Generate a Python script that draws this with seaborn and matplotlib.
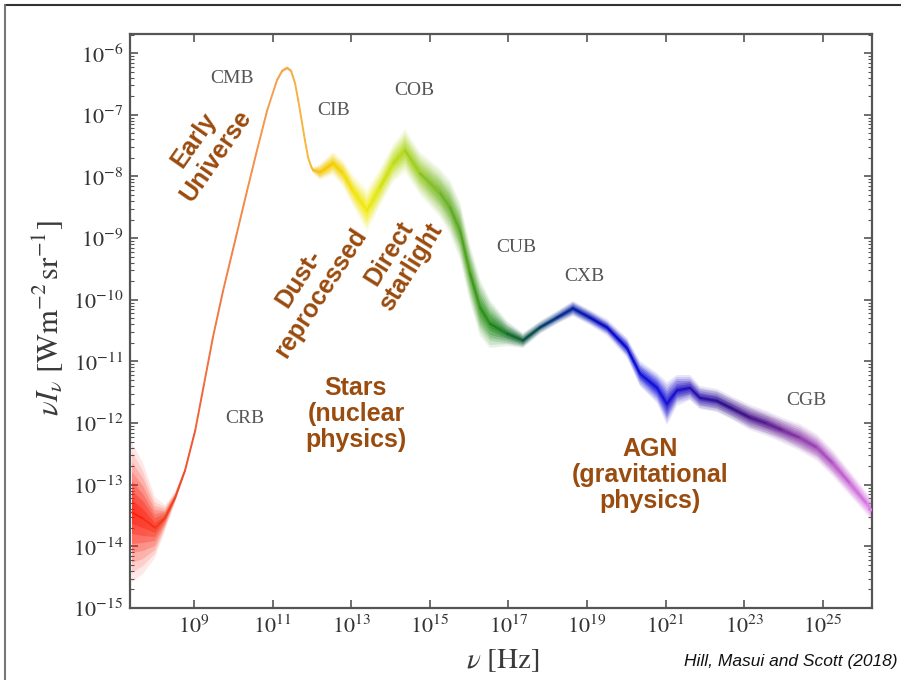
import numpy as np
import pandas as pd
import matplotlib
matplotlib.use("Agg")
import matplotlib.pyplot as plt
import seaborn as sns
from matplotlib.colors import LinearSegmentedColormap, Normalize
from matplotlib.path import Path
from matplotlib.ticker import LogLocator, NullFormatter, NullLocator
from matplotlib.lines import Line2D

# ---------------- data ----------------
log_nu = [7.42, 7.70, 8.01, 8.26, 8.52, 8.77, 9.03, 9.25, 9.48, 9.74, 10.09, 10.35,
          10.60, 10.86, 11.11, 11.24, 11.37, 11.47, 11.57, 11.65, 11.75, 11.82,
          11.90, 11.98, 12.03, 12.21, 12.54, 12.79, 13.04, 13.40, 13.73, 14.06,
          14.37, 14.75, 15.26, 15.51, 15.77, 16.02, 16.28, 16.53, 16.96, 17.37,
          17.80, 18.23, 18.64, 19.07, 19.51, 20.01, 20.35, 20.78, 21.03, 21.29,
          21.62, 21.87, 22.30, 22.71, 23.14, 23.58, 23.98, 24.42, 24.85, 25.26,
          25.69, 26.12, 26.25]
log_nuInu = [-13.45, -13.55, -13.70, -13.54, -13.21, -12.77, -12.12, -11.38,
             -10.61, -9.85, -8.92, -8.23, -7.58, -6.93, -6.44, -6.29, -6.24,
             -6.29, -6.49, -6.76, -7.14, -7.41, -7.69, -7.84, -7.90, -7.93,
             -7.79, -7.95, -8.23, -8.55, -8.18, -7.79, -7.58, -7.95, -8.27,
             -8.50, -8.88, -9.57, -10.13, -10.39, -10.55, -10.66, -10.45,
             -10.29, -10.14, -10.29, -10.45, -10.78, -11.20, -11.43, -11.69,
             -11.47, -11.43, -11.59, -11.64, -11.77, -11.91, -12.01, -12.12,
             -12.24, -12.40, -12.66, -12.98, -13.31, -13.42]
log_halfwidth = [0.78, 0.62, 0.34, 0.14, 0.06, 0.03, 0.02, 0.02, 0.02, 0.02, 0.02,
                 0.02, 0.02, 0.02, 0.02, 0.02, 0.02, 0.02, 0.02, 0.02, 0.02, 0.02,
                 0.02, 0.02, 0.03, 0.09, 0.13, 0.15, 0.17, 0.24, 0.21, 0.21, 0.24,
                 0.24, 0.27, 0.30, 0.32, 0.32, 0.32, 0.27, 0.14, 0.08, 0.07, 0.07,
                 0.08, 0.08, 0.09, 0.11, 0.14, 0.17, 0.24, 0.17, 0.14, 0.13, 0.13,
                 0.13, 0.14, 0.14, 0.14, 0.15, 0.15, 0.15, 0.14, 0.13, 0.13]

x_tick_exp = list(range(9, 26, 2))
y_tick_exp = list(range(-15, -5))

band_labels = ["CMB", "CIB", "COB", "CUB", "CXB", "CRB", "CGB"]
band_label_lognu = [9.97, 12.54, 14.60, 17.19, 18.92, 10.30, 24.59]
band_label_logI = [-6.41, -6.93, -6.60, -9.15, -9.62, -11.93, -11.64]

notes = ["Early\nUniverse", "Dust-\nreprocessed", "Direct\nstarlight",
         "Stars\n(nuclear\nphysics)", "AGN\n(gravitational\nphysics)"]
note_lognu = [9.28, 11.95, 14.24, 13.12, 20.60]
note_logI = [-7.54, -9.77, -9.36, -11.85, -12.84]
note_rot = [55, 57, 58, 0, 0]

# ---------------- style ----------------
sns.set_style("ticks")
plt.rcParams["font.family"] = ["DejaVu Sans"]
plt.rcParams["mathtext.fontset"] = "stix"

XMIN, XMAX = 7.37, 26.25
YMIN, YMAX = -15.0, -5.69

stops = [(7.37, "#ff1a0d"), (8.6, "#f04a28"), (9.5, "#f07845"), (11.0, "#f5a050"),
         (11.8, "#f7b840"), (12.3, "#f5c800"), (13.4, "#f3ee10"), (14.3, "#b0d81a"),
         (15.2, "#78b828"), (16.0, "#4aa020"), (16.6, "#1e8a18"), (17.4, "#105a3a"),
         (18.0, "#0a3c78"), (18.7, "#0820a8"), (19.5, "#0a0ac8"), (20.8, "#1212e0"),
         (21.8, "#2a10b0"), (22.6, "#30108a"), (23.6, "#5a1a90"), (24.5, "#8a3aa8"),
         (25.5, "#c060d0"), (26.25, "#e080e8")]
cmap = LinearSegmentedColormap.from_list(
    "spec", [((p - XMIN) / (XMAX - XMIN), c) for p, c in stops])
norm = Normalize(XMIN, XMAX)

fig = plt.figure(figsize=(9.01, 6.8), dpi=100)
ax = fig.add_axes([130 / 901, 1 - 608 / 680, 742 / 901, 574 / 680])
ax.set_xscale("log")
ax.set_yscale("log")

lnu = np.array(log_nu)
lI = np.array(log_nuInu)
hw = np.array(log_halfwidth)
nu = 10 ** lnu

# gradient mesh for colouring the band
gx_exp = np.linspace(XMIN, XMAX, 700)
gx = 10 ** gx_exp
gy = np.array([10 ** YMIN, 10 ** YMAX])
C = ((gx_exp[:-1] + gx_exp[1:]) / 2)[None, :]

layers = [(1.45, 0.10), (1.25, 0.13), (1.05, 0.17), (0.85, 0.22), (0.65, 0.28),
          (0.45, 0.35), (0.25, 0.45)]
for s, a in layers:
    hi = 10 ** (lI + s * hw)
    lo = 10 ** (lI - s * hw)
    verts = np.column_stack([np.r_[nu, nu[::-1], nu[:1]], np.r_[hi, lo[::-1], hi[:1]]])
    path = Path(verts, closed=True)
    mesh = ax.pcolormesh(gx, gy, C, cmap=cmap, norm=norm, alpha=a,
                         shading="flat", zorder=2, edgecolors="none")
    mesh.set_clip_path(path, ax.transData)

# centre line drawn segment by segment with seaborn (coloured by frequency)
rows = []
for i in range(len(lnu) - 1):
    mid = 0.5 * (lnu[i] + lnu[i + 1])
    rows.append((nu[i], 10 ** lI[i], mid, i))
    rows.append((nu[i + 1], 10 ** lI[i + 1], mid, i))
df = pd.DataFrame(rows, columns=["nu", "I", "seg", "k"])
sns.lineplot(data=df, x="nu", y="I", hue="seg", palette=cmap, hue_norm=norm,
             units="k", estimator=None, sort=False, legend=False, lw=1.4,
             solid_capstyle="round", ax=ax, zorder=3)

ax.set_xlim(10 ** XMIN, 10 ** XMAX)
ax.set_ylim(10 ** YMIN, 10 ** YMAX)

# ticks
ax.set_xticks([10.0 ** k for k in x_tick_exp])
ax.set_xticklabels([f"$10^{{{k}}}$" for k in x_tick_exp])
ax.xaxis.set_minor_locator(NullLocator())
ax.set_yticks([10.0 ** k for k in y_tick_exp])
ax.set_yticklabels([f"$10^{{{k}}}$" for k in y_tick_exp])
ax.yaxis.set_minor_locator(LogLocator(base=10, subs=np.arange(2, 10), numticks=100))
ax.yaxis.set_minor_formatter(NullFormatter())
ax.tick_params(which="both", direction="in", top=True, right=True, color="#555555",
               labelcolor="#333333", labelsize=16)
ax.tick_params(which="major", length=6, width=1.2, pad=5)
ax.tick_params(which="minor", length=3, width=0.8)
for sp in ax.spines.values():
    sp.set_color("#555555")
    sp.set_linewidth(1.6)

ax.set_ylabel(r"$\nu I_\nu\ [\mathrm{W m^{-2}\,sr^{-1}}]$", fontsize=22, color="#3a3a3a")
ax.yaxis.set_label_coords(-0.087, 0.505)
ax.set_xlabel(r"$\nu\ [\mathrm{Hz}]$", fontsize=21, color="#3a3a3a")
ax.xaxis.set_label_coords(0.503, -0.066)

for lab, xx, yy in zip(band_labels, band_label_lognu, band_label_logI):
    ax.text(10 ** xx, 10 ** yy, lab, ha="center", va="center", fontsize=14,
            family=["Liberation Serif"], color="#555555", zorder=4)

brown = "#9a4b0e"
for lab, xx, yy, r in zip(notes, note_lognu, note_logI, note_rot):
    ax.text(10 ** xx, 10 ** yy, lab, ha="center", va="center", fontsize=18,
            family=["Liberation Sans"], weight="bold", color=brown, rotation=r,
            rotation_mode="anchor", linespacing=1.1, zorder=5)

fig.text(897 / 901, 1 - 666 / 680, "Hill, Masui and Scott (2018)", ha="right",
         va="baseline", fontsize=12.5, style="italic", family=["Liberation Sans"],
         color="#111111")

# slide frame
fig.add_artist(Line2D([5 / 901, 1], [1 - 5 / 680, 1 - 5 / 680], transform=fig.transFigure,
                      color="#333333", lw=1.5))
fig.add_artist(Line2D([5 / 901, 5 / 901], [0, 1 - 5 / 680], transform=fig.transFigure,
                      color="#777777", lw=1.5))

fig.savefig("out.png", dpi=100)
